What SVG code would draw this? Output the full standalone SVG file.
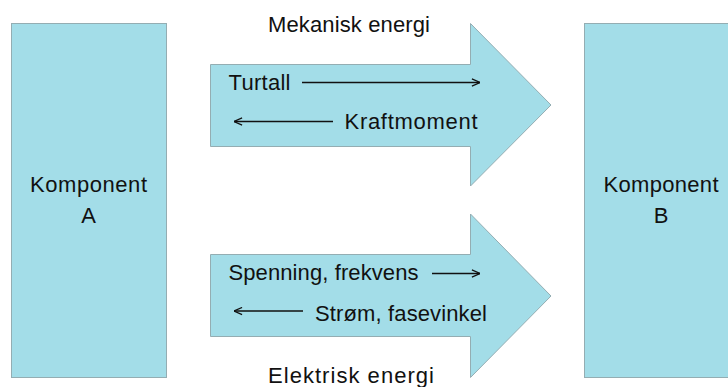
<svg xmlns="http://www.w3.org/2000/svg" width="728" height="387" viewBox="0 0 728 387">
<defs>
<style>
.box{fill:#a3dde8;stroke:#94adb2;stroke-width:1}
.t{font-family:"Liberation Sans",Arial,sans-serif;font-size:22px;fill:#111}
.c{text-anchor:middle}
.ln{stroke:#111;stroke-width:1.3;fill:none}
</style>
<marker id="ah" viewBox="0 0 10 10" refX="10" refY="5" markerWidth="9" markerHeight="9" markerUnits="userSpaceOnUse" orient="auto-start-reverse">
<path d="M1,1 L10,5 L1,9" fill="none" stroke="#111" stroke-width="1.3"/>
</marker>
</defs>
<rect width="728" height="387" fill="#fff"/>
<g id="komponentA">
<rect class="box" x="11.5" y="23.5" width="155" height="354"/>
<text class="t c" x="88.5" y="192" textLength="117">Komponent</text>
<text class="t c" x="88.5" y="223">A</text>
</g>
<g id="komponentB">
<rect class="box" x="584.5" y="23.5" width="155" height="354"/>
<text class="t c" x="661" y="192" textLength="115">Komponent</text>
<text class="t c" x="661" y="223">B</text>
</g>
<g id="mekanisk">
<path class="box" d="M210.5,64.5 H470.5 V23.5 L551,105 L470.5,186 V146.5 H210.5 Z"/>
<text class="t c" x="349" y="32" textLength="162">Mekanisk energi</text>
<text class="t" x="228.5" y="89.5" textLength="62">Turtall</text>
<text class="t" x="344.5" y="128.5" textLength="133">Kraftmoment</text>
</g>
<g id="elektrisk">
<path class="box" d="M210.5,254.5 H470.5 V214 L551,296 L470.5,377.5 V336.5 H210.5 Z"/>
<text class="t" x="228.5" y="280" textLength="190">Spenning, frekvens</text>
<text class="t" x="315" y="321" textLength="172">Strøm, fasevinkel</text>
<text class="t c" x="351" y="383" textLength="166">Elektrisk energi</text>
</g>
<g id="connectors">
<line class="ln" x1="302" y1="82.5" x2="480" y2="82.5" marker-end="url(#ah)"/>
<line class="ln" x1="333" y1="121.5" x2="234" y2="121.5" marker-end="url(#ah)"/>
<line class="ln" x1="432" y1="273.5" x2="480" y2="273.5" marker-end="url(#ah)"/>
<line class="ln" x1="303" y1="311" x2="234" y2="311" marker-end="url(#ah)"/>
</g>
</svg>
